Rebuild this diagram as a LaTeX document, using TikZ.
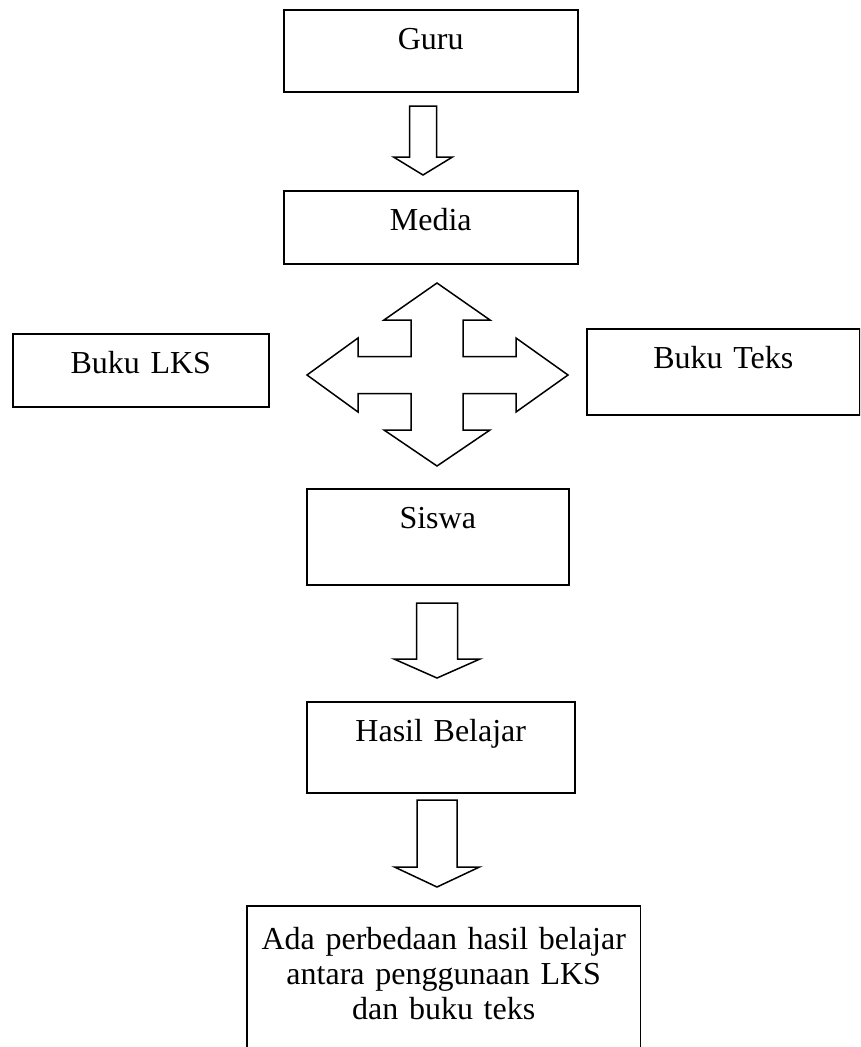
\documentclass[tikz,border=0pt]{standalone}
\usepackage{fontspec}
\setmainfont{Liberation Serif}

\begin{document}
\begin{tikzpicture}[x=1pt, y=-1pt, font=\fontsize{32}{35}\selectfont,
	kotak/.style={draw, line width=1.5pt, inner sep=0pt, align=center, text height=40pt, anchor=north west},
	panah/.style={draw, line width=1.5pt, line join=miter}]
	\useasboundingbox (0,0) rectangle (860,1047);
	\clip (0,0) rectangle (860,1047);
	% kotak
	\foreach \nama/\xa/\ya/\xb/\yb/\teks in {
		guru/283/9/577/91/Guru,
		media/283/190/577/263/Media,
		lks/12/333/268/406/{Buku LKS},
		teks/586/328/859/414/{Buku Teks},
		siswa/306/488/568/584/Siswa,
		hasil/306/701/574/792/{Hasil Belajar}}{
		\pgfmathsetmacro\lebar{\xb-\xa}
		\pgfmathsetmacro\dalam{\yb-\ya-40}
		\node[kotak, text width=\lebar pt, text depth=\dalam pt] (\nama) at (\xa,\ya) {\teks};
	}
	\node[kotak, draw=none, text width=392pt, text height=43pt, text depth=130pt] (akhir) at (247,906)
		{Ada perbedaan hasil belajar\\antara penggunaan LKS\\dan buku teks};
	\draw[line width=1.5pt] (akhir.south west) |- (akhir.north east) -- (akhir.south east);
	% panah bawah
	\foreach \cx/\atas/\sb/\kb/\dasar/\ujung in {
		423/106/13.5/29.5/157/175,
		437/603/20.5/43/659/678,
		437/800/20/42.5/867/887}{
		\draw[panah] (\cx-\sb,\atas) -- (\cx+\sb,\atas) -- (\cx+\sb,\dasar) -- (\cx+\kb,\dasar)
			-- (\cx,\ujung) -- (\cx-\kb,\dasar) -- (\cx-\sb,\dasar) -- cycle;
	}
	% panah empat arah
	\draw[panah, shift={(437,375)}] (0,-92) -- (53,-55) -- (26,-55) -- (26,-18.5) -- (79,-18.5)
		-- (79,-37) -- (131,0) -- (79,37) -- (79,18.5) -- (26,18.5) -- (26,55) -- (53,55)
		-- (0,91) -- (-53,55) -- (-26,55) -- (-26,18.5) -- (-79,18.5) -- (-79,37) -- (-130,0)
		-- (-79,-37) -- (-79,-18.5) -- (-26,-18.5) -- (-26,-55) -- (-53,-55) -- cycle;
\end{tikzpicture}
\end{document}
